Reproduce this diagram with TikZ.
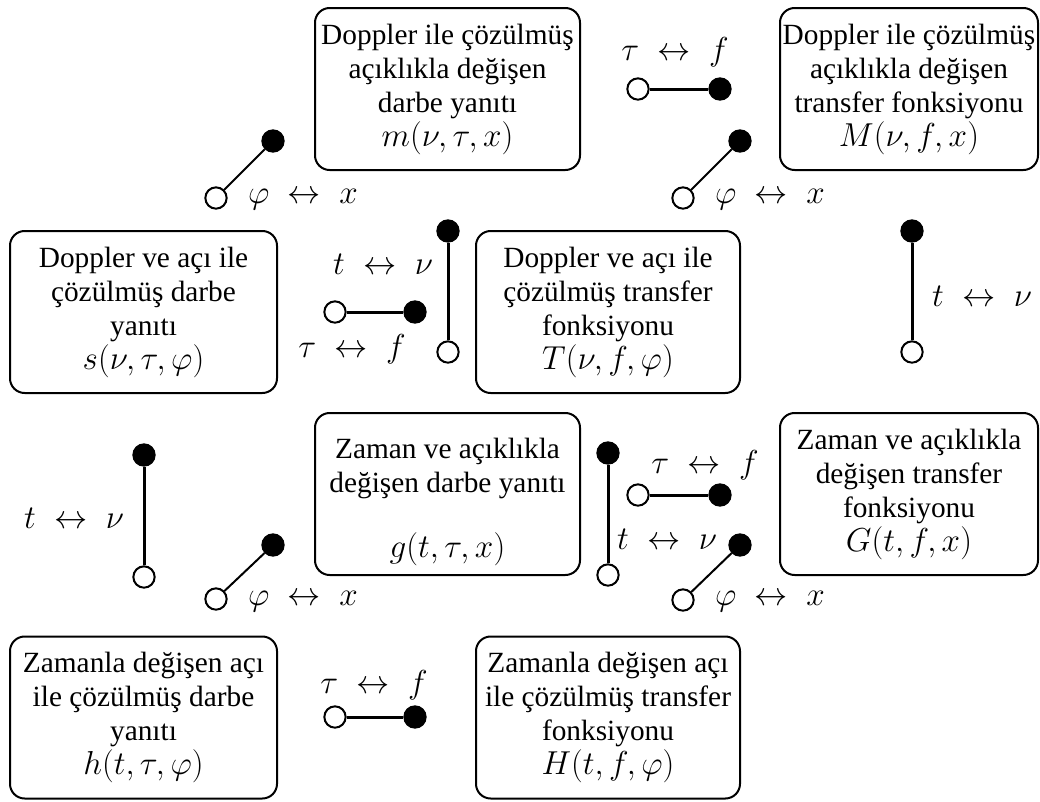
\documentclass[tikz,border=0pt]{standalone}
\usepackage{fontspec}
\setmainfont{Liberation Serif}
\newcommand{\bigmath}[1]{{\fontsize{24.5}{28.5}\selectfont$#1$}}
\begin{document}
\begin{tikzpicture}[x=0.75pt,y=-0.75pt,
  box/.style={draw, line width=1.5pt, rounded corners=11pt, inner sep=0pt, align=center,
    minimum height=121.5pt, font=\fontsize{22}{25.5}\selectfont},
  oc/.style={circle, draw, fill=white, line width=1.5pt, minimum size=16pt, inner sep=0pt},
  fc/.style={oc, fill=black},
  bar/.style={line width=2.25pt},
  slant/.style={line width=1.5pt},
  lab/.style={font=\fontsize{24}{28}\selectfont, inner sep=0pt}]
\useasboundingbox (0,0) rectangle (1040,801);

% boxes
\node[box, minimum width=198.75pt] (m) at (447.5,89) {Doppler ile çözülmüş\\açıklıkla değişen\\darbe yanıtı\\\bigmath{m(\nu,\tau,x)}};
\node[box, minimum width=193.5pt] (M) at (909,89) {Doppler ile çözülmüş\\açıklıkla değişen\\transfer fonksiyonu\\\bigmath{M(\nu,f,x)}};
\node[box, minimum width=200.25pt] (s) at (143.5,312) {Doppler ve açı ile\\çözülmüş darbe\\yanıtı\\\bigmath{s(\nu,\tau,\varphi)}};
\node[box, minimum width=198pt] (T) at (608,312) {Doppler ve açı ile\\çözülmüş transfer\\fonksiyonu\\\bigmath{T(\nu,f,\varphi)}};
\node[box, minimum width=198.75pt] (g) at (447.5,494) {\rule{0pt}{27pt}Zaman ve açıklıkla\\değişen darbe yanıtı\\[23pt]\bigmath{g(t,\tau,x)}};
\node[box, minimum width=193.5pt] (G) at (909,494) {Zaman ve açıklıkla\\değişen transfer\\fonksiyonu\\\bigmath{G(t,f,x)}};
\node[box, minimum width=200.25pt] (h) at (143.5,717.5) {Zamanla değişen açı\\ile çözülmüş darbe\\yanıtı\\\bigmath{h(t,\tau,\varphi)}};
\node[box, minimum width=198pt] (H) at (608,717.5) {Zamanla değişen açı\\ile çözülmüş transfer\\fonksiyonu\\\bigmath{H(t,f,\varphi)}};

% dumbbells
\node[oc] (a1) at (216,198) {}; \node[fc] (b1) at (273,141) {}; \draw[slant] (a1) -- (b1);
\node[oc] (a2) at (638,89) {};  \node[fc] (b2) at (720,89) {};  \draw[bar] (a2) -- (b2);
\node[oc] (a3) at (683,198) {}; \node[fc] (b3) at (740,141) {}; \draw[slant] (a3) -- (b3);
\node[oc] (a4) at (448,352) {}; \node[fc] (b4) at (448,231) {}; \draw[bar] (a4) -- (b4);
\node[oc] (a5) at (335,312) {}; \node[fc] (b5) at (415,312) {}; \draw[bar] (a5) -- (b5);
\node[oc] (a6) at (912,352) {}; \node[fc] (b6) at (912,231) {}; \draw[bar] (a6) -- (b6);
\node[oc] (a7) at (144,577) {}; \node[fc] (b7) at (144,455) {}; \draw[bar] (a7) -- (b7);
\node[oc] (a8) at (216,599) {}; \node[fc] (b8) at (273,545) {}; \draw[slant] (a8) -- (b8);
\node[oc] (a9) at (608,575) {}; \node[fc] (b9) at (608,453) {}; \draw[bar] (a9) -- (b9);
\node[oc] (a10) at (638,495) {}; \node[fc] (b10) at (720,495) {}; \draw[bar] (a10) -- (b10);
\node[oc] (a11) at (683,600) {}; \node[fc] (b11) at (740,545) {}; \draw[slant] (a11) -- (b11);
\node[oc] (a12) at (335,717) {}; \node[fc] (b12) at (415,717) {}; \draw[bar] (a12) -- (b12);

% labels
\node[lab] (l1) at (303,200) {$\varphi\;\leftrightarrow\;x$};
\node[lab] (l2) at (675,52) {$\tau\;\leftrightarrow\;f$};
\node[lab] (l3) at (770,200) {$\varphi\;\leftrightarrow\;x$};
\node[lab] (l4) at (383,264) {$t\;\leftrightarrow\;\nu$};
\node[lab] (l5) at (352,349) {$\tau\;\leftrightarrow\;f$};
\node[lab] (l6) at (982,296) {$t\;\leftrightarrow\;\nu$};
\node[lab] (l7) at (74,518) {$t\;\leftrightarrow\;\nu$};
\node[lab] (l8) at (303,602) {$\varphi\;\leftrightarrow\;x$};
\node[lab] (l9) at (667,539) {$t\;\leftrightarrow\;\nu$};
\node[lab] (l10) at (705,465) {$\tau\;\leftrightarrow\;f$};
\node[lab] (l11) at (770,602) {$\varphi\;\leftrightarrow\;x$};
\node[lab] (l12) at (374,685) {$\tau\;\leftrightarrow\;f$};
\end{tikzpicture}
\end{document}
